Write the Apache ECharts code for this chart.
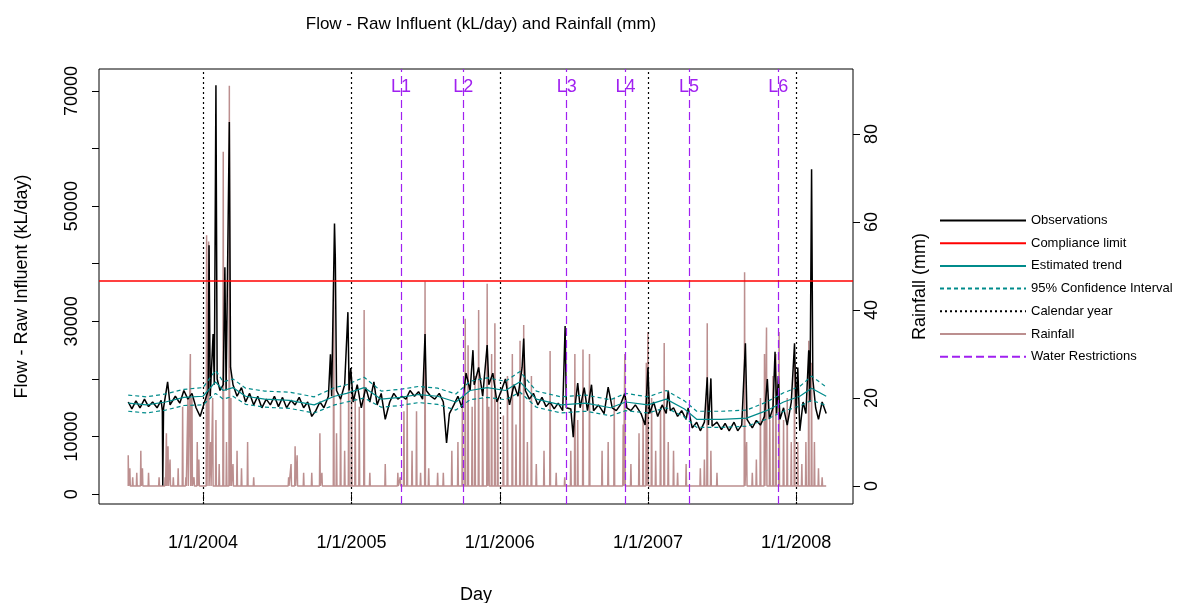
<!DOCTYPE html>
<html><head><meta charset="utf-8">
<script src="https://cdn.jsdelivr.net/npm/echarts@6/dist/echarts.min.js"></script>
<style>html,body{margin:0;background:#fff}#main{width:1194px;height:603px}</style>
</head><body><div id="main"></div>
<script>
// observations (kL/day)
var obs = [
['2003-07-01',16000],['2003-07-10',14800],['2003-07-20',16200],['2003-07-30',15000],['2003-08-10',16500],['2003-08-20',15200],['2003-08-30',16000],['2003-09-10',15000],['2003-09-20',16300],['2003-09-23',14500],['2003-09-24',1500],['2003-09-26',15000],['2003-10-06',19500],['2003-10-12',15500],['2003-10-25',17000],['2003-11-05',15800],['2003-11-15',18000],['2003-11-25',16500],['2003-12-05',17500],['2003-12-15',15000],['2003-12-25',13500],
['2004-01-05',16000],['2004-01-14',18000],['2004-01-16',43200],['2004-01-19',17000],['2004-01-26',27800],['2004-01-29',19000],['2004-02-02',71000],['2004-02-05',20000],['2004-02-12',18000],['2004-02-20',19000],['2004-02-24',39400],['2004-02-27',18000],['2004-03-06',64600],['2004-03-09',22000],['2004-03-15',19000],['2004-03-25',17000],['2004-04-05',18500],['2004-04-15',16000],['2004-04-25',17500],['2004-05-05',15500],['2004-05-15',17000],['2004-05-25',15000],['2004-06-05',16500],['2004-06-15',15500],['2004-06-25',17000],['2004-07-05',15200],['2004-07-15',16800],['2004-07-25',15000],['2004-08-05',16300],['2004-08-15',15500],['2004-08-25',16800],['2004-09-05',15000],['2004-09-15',16000],['2004-09-25',13500],['2004-10-05',14500],['2004-10-15',16000],['2004-10-25',15000],['2004-11-05',17000],['2004-11-10',24300],['2004-11-13',17000],['2004-11-20',47000],['2004-11-22',41000],['2004-11-25',18000],['2004-12-05',16500],['2004-12-15',19000],['2004-12-23',31600],['2004-12-26',18000],['2004-12-30',21900],
['2005-01-05',16000],['2005-01-15',19000],['2005-01-25',15000],['2005-02-05',18500],['2005-02-15',16000],['2005-02-25',19500],['2005-03-05',15500],['2005-03-15',17500],['2005-03-25',13000],['2005-04-05',16000],['2005-04-15',17500],['2005-04-25',16500],['2005-05-05',17000],['2005-05-15',16500],['2005-05-25',18000],['2005-06-05',17000],['2005-06-15',17800],['2005-06-25',16500],['2005-07-01',27800],['2005-07-04',18000],['2005-07-15',17000],['2005-07-25',16500],['2005-08-05',17500],['2005-08-15',16000],['2005-08-23',8900],['2005-08-30',14000],['2005-09-10',15500],['2005-09-20',17000],['2005-09-30',15000],['2005-10-10',21000],['2005-10-20',18000],['2005-10-27',25000],['2005-10-30',19000],['2005-11-10',22000],['2005-11-20',17000],['2005-12-01',25900],['2005-12-05',19000],['2005-12-15',21000],['2005-12-25',16000],
['2006-01-05',18000],['2006-01-15',20000],['2006-01-25',15500],['2006-02-05',19000],['2006-02-15',17000],['2006-02-25',22000],['2006-03-01',27000],['2006-03-05',18000],['2006-03-15',16500],['2006-03-25',17500],['2006-04-05',15500],['2006-04-15',16800],['2006-04-25',15200],['2006-05-05',16000],['2006-05-15',14800],['2006-05-25',15800],['2006-06-05',14500],['2006-06-11',29200],['2006-06-14',15000],['2006-06-25',14800],['2006-07-01',9900],['2006-07-05',15000],['2006-07-12',19300],['2006-07-18',15000],['2006-07-28',18500],['2006-08-05',14500],['2006-08-15',19000],['2006-08-20',14500],['2006-09-01',15500],['2006-09-15',14000],['2006-09-25',18600],['2006-10-05',15000],['2006-10-15',14500],['2006-10-25',15500],['2006-11-05',17500],['2006-11-10',15000],['2006-11-20',14500],['2006-12-01',15500],['2006-12-15',14000],['2006-12-25',12000],
['2007-01-01',22000],['2007-01-05',14000],['2007-01-15',16000],['2007-01-25',13500],['2007-02-05',15500],['2007-02-15',14000],['2007-02-20',18000],['2007-02-25',14500],['2007-03-05',15000],['2007-03-15',13500],['2007-03-25',14500],['2007-04-05',13000],['2007-04-10',15000],['2007-04-20',11500],['2007-05-01',12500],['2007-05-10',11000],['2007-05-20',12500],['2007-05-27',20300],['2007-05-30',12000],['2007-06-05',20100],['2007-06-08',11800],['2007-06-20',12500],['2007-07-01',11200],['2007-07-10',12300],['2007-07-20',11000],['2007-08-01',12500],['2007-08-10',11000],['2007-08-20',12000],['2007-08-29',26200],['2007-09-02',13000],['2007-09-15',11500],['2007-09-25',12800],['2007-10-05',12000],['2007-10-15',13500],['2007-10-22',20000],['2007-10-27',13000],['2007-11-05',15000],['2007-11-10',24700],['2007-11-14',14000],['2007-11-18',20500],['2007-11-22',13000],['2007-12-01',15000],['2007-12-10',12000],['2007-12-20',16000],['2007-12-28',26200],
['2008-01-01',14000],['2008-01-05',22000],['2008-01-10',11000],['2008-01-18',16000],['2008-01-25',14000],['2008-02-01',25000],['2008-02-04',16000],['2008-02-08',56400],['2008-02-11',20000],['2008-02-18',15000],['2008-02-25',13000],['2008-03-05',16000],['2008-03-15',14000]
];
var trendDates = ['2003-07-01','2003-08-15','2003-10-01','2003-11-15','2004-01-01','2004-02-01','2004-02-20','2004-03-15','2004-04-15','2004-06-01','2004-08-01','2004-10-01','2004-11-20','2004-12-20','2005-02-01','2005-03-15','2005-05-01','2005-06-15','2005-08-01','2005-09-15','2005-10-20','2005-12-01','2006-01-15','2006-02-20','2006-04-01','2006-06-01','2006-08-01','2006-10-01','2006-11-07','2007-01-01','2007-02-15','2007-04-01','2007-05-01','2007-07-01','2007-09-01','2007-10-20','2007-12-01','2008-01-10','2008-02-08','2008-03-15'];
var trend =   [15800,15500,16000,16800,17000,19500,18000,18500,17000,16500,16300,15500,17000,17500,18500,16500,16800,17300,17000,16000,18000,18500,18000,19500,16500,15500,15800,15000,16000,15500,16500,14800,13000,13000,13200,14500,16000,17000,18400,17000];
var ciUpper = [17200,16900,17400,18200,18500,21500,19500,20000,18400,17900,17700,16900,18500,19000,20300,17900,18200,18700,18400,17400,19600,20200,19600,21300,17900,16900,17200,16400,17500,16900,18000,16200,14400,14400,14600,16000,17600,18700,20500,18600];
var ciLower = [14400,14100,14600,15400,15500,17500,16500,17000,15600,15100,14900,14100,15500,16000,16700,15100,15400,15900,15600,14600,16400,16800,16400,17700,15100,14100,14400,13600,14500,14100,15000,13400,11600,11600,11800,13000,14400,15300,16300,15400];
// rainfall events (mm)
var rain = [
['2003-07-01',7],['2003-07-05',4],['2003-07-12',2],['2003-07-22',3],['2003-08-01',8],['2003-08-05',4],['2003-08-20',3],['2003-09-15',2],['2003-09-30',2],['2003-10-03',12],['2003-10-07',9],['2003-10-12',6],['2003-10-20',2],['2003-11-01',4],['2003-11-12',18],['2003-11-20',2],['2003-11-25',20],['2003-12-01',30],['2003-12-05',20],['2003-12-10',2],['2003-12-18',10],['2003-12-22',6],
['2004-01-10',57],['2004-01-15',55.6],['2004-01-20',10],['2004-01-25',20],['2004-02-02',15],['2004-02-10',5],['2004-02-20',76],['2004-02-28',10],['2004-03-06',91],['2004-03-10',20],['2004-03-15',5],['2004-03-25',8],['2004-04-05',4],['2004-04-20',10],['2004-05-05',2],['2004-07-30',2],['2004-08-05',5],['2004-08-15',9],['2004-08-20',7],['2004-09-05',3],['2004-09-25',3],['2004-10-15',12],['2004-10-20',3],['2004-11-18',47],['2004-11-25',12],['2004-12-05',20],['2004-12-15',8],['2004-12-25',26],
['2005-01-01',22],['2005-01-10',20],['2005-01-20',18],['2005-02-01',40],['2005-02-15',3],['2005-03-25',5],['2005-04-25',3],['2005-05-01',2],['2005-05-10',17],['2005-05-18',20],['2005-05-30',8],['2005-06-10',17],['2005-06-20',3],['2005-07-01',46.5],['2005-07-10',4],['2005-08-01',3],['2005-08-15',3],['2005-09-05',8],['2005-09-20',10],['2005-10-01',20],['2005-10-08',38],['2005-10-15',32],['2005-10-25',18],['2005-11-01',25],['2005-11-10',40],['2005-11-20',20],['2005-12-01',46],['2005-12-05',18],['2005-12-12',30],['2005-12-20',37],['2005-12-27',20],
['2006-01-10',16],['2006-01-20',25],['2006-02-01',30],['2006-02-10',14],['2006-02-20',33],['2006-03-01',36.6],['2006-03-10',10],['2006-03-20',25],['2006-04-01',5],['2006-04-20',8],['2006-05-05',30.7],['2006-05-20',3],['2006-06-10',2],['2006-06-25',8],['2006-07-05',30],['2006-07-12',15],['2006-07-25',31],['2006-08-10',30],['2006-09-10',8],['2006-09-25',10],['2006-10-10',20],['2006-11-01',14],['2006-11-05',30],['2006-11-20',5],['2006-12-10',12],['2006-12-20',15],['2006-12-28',28],
['2007-01-01',35],['2007-01-10',20],['2007-01-20',8],['2007-02-01',18],['2007-02-10',32.5],['2007-02-20',10],['2007-03-05',8],['2007-03-15',3],['2007-04-05',5],['2007-05-10',4],['2007-05-20',6],['2007-05-27',37],['2007-06-05',8],['2007-06-20',3],['2007-08-27',48.6],['2007-09-01',10],['2007-09-15',3],['2007-09-25',6],['2007-10-05',20],['2007-10-15',30],['2007-10-20',36],['2007-10-28',15],['2007-11-05',25],['2007-11-12',30],['2007-11-20',35],['2007-12-01',15],['2007-12-10',20],['2007-12-20',10],['2007-12-28',28],
['2008-01-05',10],['2008-01-15',5],['2008-01-25',10],['2008-02-01',33],['2008-02-08',28],['2008-02-15',10],['2008-02-25',4],['2008-03-05',2]
];
var complianceLimit = 37000;
var years = ['2004-01-01','2005-01-01','2006-01-01','2007-01-01','2008-01-01'];
var restrictions = [['L1','2005-05-03'],['L2','2005-10-03'],['L3','2006-06-15'],['L4','2006-11-07'],['L5','2007-04-12'],['L6','2007-11-18']];
var rainStart = '2003-07-01', rainEnd = '2008-03-15';

var DAY = 86400000;
function t(s) { return +new Date(s + 'T00:00:00Z'); }
var rainData = [[t(rainStart), 0]];
rain.forEach(function (r) {
  var d = t(r[0]);
  rainData.push([d - DAY, 0], [d, r[1]], [d + DAY, 0]);
});
rainData.push([t(rainEnd), 0]);

var YMIN = -1700, YMAX = 73800;
var font = 'Liberation Sans';
var myChart = echarts.init(document.getElementById('main'));
var option = {
  animation: false,
  textStyle: { fontFamily: font },
  title: { text: 'Flow - Raw Influent (kL/day) and Rainfall (mm)', left: 476, top: 11, textAlign: 'center',
    textStyle: { fontSize: 17, fontWeight: 'normal', color: '#000', fontFamily: font } },
  grid: { left: 99, right: 341, top: 69, bottom: 99, outerBoundsMode: 'none', show: true, borderColor: '#000', borderWidth: 1 },
  legend: {
    left: 934, top: 209, orient: 'vertical', itemWidth: 86, itemHeight: 14, itemGap: 9.7,
    itemStyle: { opacity: 0 },
    textStyle: { fontSize: 13, color: '#000', fontFamily: font },
    data: ['Observations', 'Compliance limit', 'Estimated trend', '95% Confidence Interval', 'Calendar year', 'Rainfall', 'Water Restrictions']
  },
  xAxis: {
    type: 'value', min: t('2003-04-20'), max: t('2008-05-20'),
    name: 'Day', nameLocation: 'middle', nameGap: 82, nameTextStyle: { fontSize: 18, color: '#000' },
    splitLine: { show: false }, axisLine: { show: false },
    axisTick: { show: true, length: 7, lineStyle: { color: '#000' }, customValues: years.map(t) },
    axisLabel: { fontSize: 18, color: '#000', margin: 30, customValues: years.map(t),
      formatter: function (v) { var d = new Date(v); return (d.getUTCMonth() + 1) + '/' + d.getUTCDate() + '/' + d.getUTCFullYear(); } }
  },
  yAxis: [{
    type: 'value', min: YMIN, max: YMAX,
    name: 'Flow - Raw Influent (kL/day)', nameLocation: 'middle', nameGap: 68, nameTextStyle: { fontSize: 18, color: '#000' },
    splitLine: { show: false }, axisLine: { show: false },
    axisTick: { show: true, length: 7, lineStyle: { color: '#000' }, customValues: [0,10000,20000,30000,40000,50000,60000,70000] },
    axisLabel: { fontSize: 18, color: '#000', rotate: 90, margin: 18, customValues: [0,10000,30000,50000,70000],
      formatter: function (v) { return String(v); } }
  }, {
    type: 'value', min: -4.1, max: 94.8, position: 'right',
    name: 'Rainfall (mm)', nameLocation: 'middle', nameGap: 58, nameRotate: 90, nameTextStyle: { fontSize: 18, color: '#000' },
    splitLine: { show: false }, axisLine: { show: false },
    axisTick: { show: true, length: 7, lineStyle: { color: '#000' }, customValues: [0,20,40,60,80] },
    axisLabel: { fontSize: 18, color: '#000', rotate: 90, margin: 10, customValues: [0,20,40,60,80] }
  }],
  series: [
    { name: 'Rainfall', type: 'line', yAxisIndex: 1, symbol: 'none', data: rainData, z: 1,
      lineStyle: { color: '#bc8f8f', width: 1.5 }, itemStyle: { color: '#bc8f8f' } },
    { name: 'Observations', type: 'line', symbol: 'none', z: 3,
      data: obs.map(function (p) { return [t(p[0]), p[1]]; }),
      lineStyle: { color: '#000', width: 1.5 }, itemStyle: { color: '#000' } },
    { name: 'Estimated trend', type: 'line', symbol: 'none', z: 4,
      data: trendDates.map(function (d, i) { return [t(d), trend[i]]; }),
      lineStyle: { color: '#008b8b', width: 1.2 }, itemStyle: { color: '#008b8b' } },
    { name: '95% Confidence Interval', type: 'line', symbol: 'none', z: 4,
      data: trendDates.map(function (d, i) { return [t(d), ciUpper[i]]; }),
      lineStyle: { color: '#008b8b', width: 1.2, type: [4, 3] }, itemStyle: { color: '#008b8b' } },
    { name: '95% Confidence Interval', type: 'line', symbol: 'none', z: 4,
      data: trendDates.map(function (d, i) { return [t(d), ciLower[i]]; }),
      lineStyle: { color: '#008b8b', width: 1.2, type: [4, 3] }, itemStyle: { color: '#008b8b' } },
    { name: 'Compliance limit', type: 'line', symbol: 'none', z: 5,
      data: [[t('2003-04-20'), complianceLimit], [t('2008-05-20'), complianceLimit]],
      lineStyle: { color: '#ff0000', width: 1.5 }, itemStyle: { color: '#ff0000' } },
    { name: 'Calendar year', type: 'line', symbol: 'none', data: [], z: 2,
      lineStyle: { color: '#000', width: 1.2, type: [2, 3] }, itemStyle: { color: '#000' },
      markLine: { silent: true, symbol: 'none', label: { show: false },
        lineStyle: { color: '#000', width: 1.2, type: [2, 3] },
        data: years.map(function (y) { return [{ coord: [t(y), YMIN] }, { coord: [t(y), YMAX] }]; }) } },
    { name: 'Water Restrictions', type: 'line', symbol: 'none', data: [], z: 6,
      lineStyle: { color: '#a020f0', width: 1.2, type: [8, 4] }, itemStyle: { color: '#a020f0' },
      markLine: { silent: true, symbol: 'none', label: { show: false },
        lineStyle: { color: '#a020f0', width: 1.2, type: [8, 4] },
        data: restrictions.map(function (r) { return [{ coord: [t(r[1]), YMIN] }, { coord: [t(r[1]), YMAX] }]; }) },
      markPoint: { symbol: 'circle', symbolSize: 0,
        label: { show: true, position: 'inside', formatter: '{b}', fontSize: 18, color: '#a020f0', fontFamily: font },
        data: restrictions.map(function (r) { return { name: r[0], coord: [t(r[1]), 70700] }; }) } }
  ]
};
myChart.setOption(option);
</script></body></html>
